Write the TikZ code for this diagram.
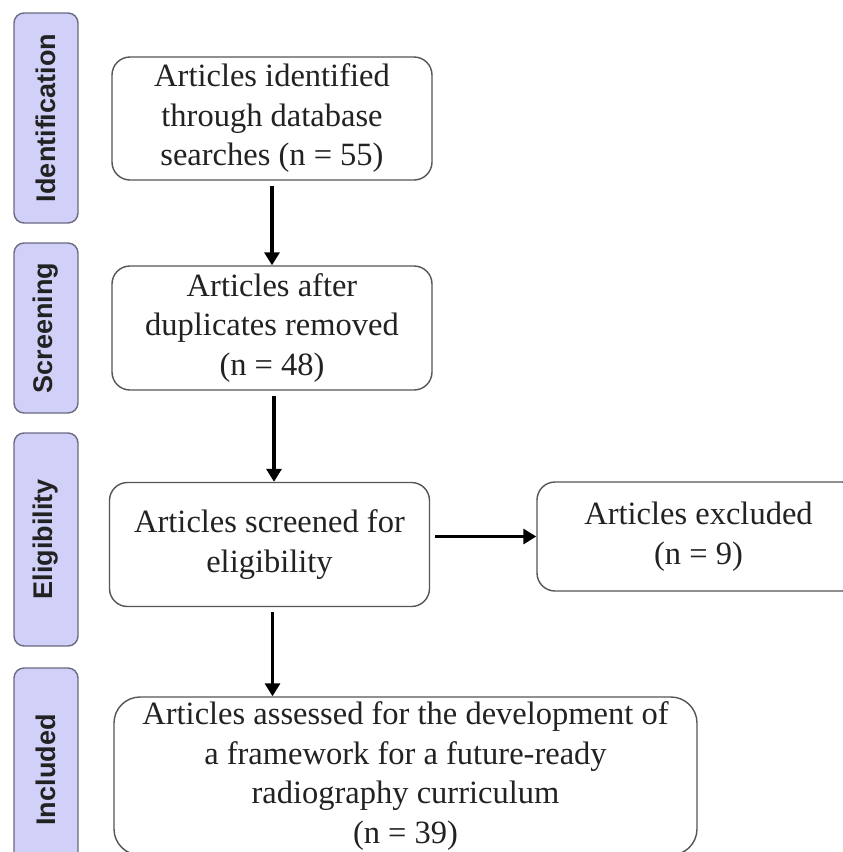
\documentclass[tikz,border=0pt]{standalone}
\usepackage{fontspec}
\setmainfont{Liberation Serif}
\newfontfamily\phasefont{Liberation Sans}
\usetikzlibrary{arrows.meta}
\definecolor{phasebg}{HTML}{D0D0F8}
\definecolor{phaseline}{HTML}{6A6A82}
\definecolor{boxline}{HTML}{555555}
\definecolor{ink}{HTML}{222222}
\tikzset{
  box/.style={draw=boxline, line width=1.4pt, rounded corners=18pt, fill=white,
    align=center, text=ink, inner sep=0pt, font=\fontsize{32.5}{39.5}\selectfont},
  phase/.style={draw=phaseline, line width=1.4pt, rounded corners=10pt, fill=phasebg,
    rotate=90, minimum height=64pt, inner sep=0pt, text=ink,
    font=\phasefont\bfseries\fontsize{27}{30}\selectfont},
  flow/.style={draw=black, line width=3.8pt, shorten <=5pt,
    -{Triangle[length=13pt,width=15pt]}}
}
\begin{document}
\begin{tikzpicture}[x=1pt,y=-1pt]
  \useasboundingbox (0,0) rectangle (843,852);

  % phases
  \node[phase, minimum width=210pt] (identlab) at (46,118) {Identification};
  \node[phase, minimum width=170pt] (screenlab) at (46,328) {Screening};
  \node[phase, minimum width=213pt] (eliglab) at (46,539.5) {Eligibility};
  \node[phase, minimum width=204pt] (incllab) at (46,770) {Included};

  % boxes
  \node[box, minimum width=320pt, minimum height=123pt] (ident) at (272,118.5)
    {Articles identified\\through database\\searches (n = 55)};
  \node[box, minimum width=320pt, minimum height=124pt] (screen) at (272,328)
    {Articles after\\duplicates removed\\(n = 48)};
  \node[box, minimum width=320pt, minimum height=124pt] (elig) at (269.5,544.5)
    {Articles screened for\\eligibility};
  \node[box, minimum width=323pt, minimum height=109pt] (excl) at (698.5,536.5)
    {Articles excluded\\(n = 9)};
  \node[box, rounded corners=26pt, minimum width=583pt, minimum height=158pt] (incl) at (405.5,776)
    {Articles assessed for the development of\\a framework for a future-ready\\radiography curriculum\\(n = 39)};

  % arrows
  \draw[flow] (ident.south) -- (screen.north);
  \draw[flow] ([xshift=2pt]screen.south) -- ([xshift=2pt]screen.south |- elig.north);
  \draw[flow] ([xshift=3pt]elig.south) -- ([xshift=3pt]elig.south |- incl.north);
  \draw[flow] (excl.west -| elig.east) -- (excl.west);
\end{tikzpicture}
\end{document}
